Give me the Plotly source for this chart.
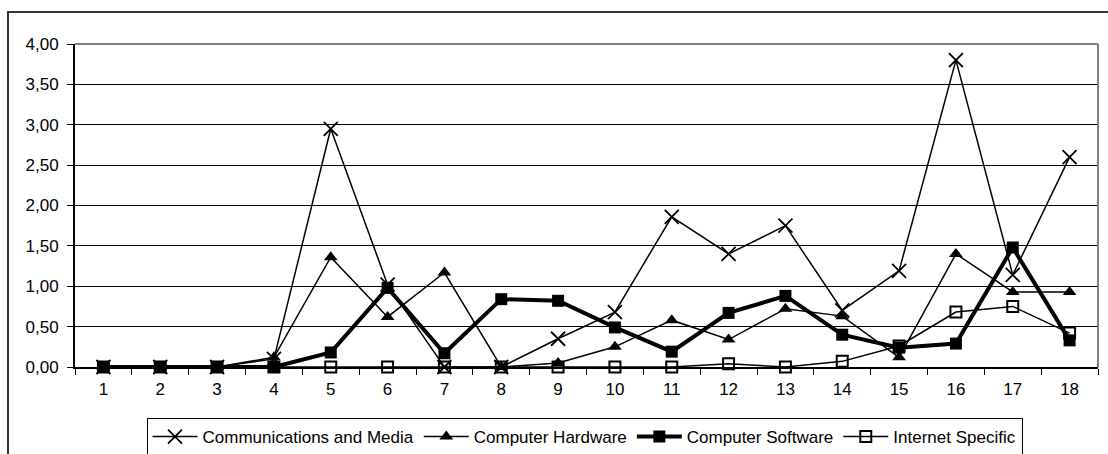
import plotly.graph_objects as go

categories = [str(i) for i in range(1, 19)]

comm_media = [0, 0, 0, 0.10, 2.95, 1.02, 0, 0, 0.35, 0.68, 1.86, 1.40, 1.75, 0.70, 1.19, 3.80, 1.14, 2.60]
comp_hardware = [0, 0, 0, 0.12, 1.36, 0.62, 1.17, 0, 0.05, 0.25, 0.58, 0.34, 0.72, 0.63, 0.12, 1.40, 0.93, 0.93]
comp_software = [0, 0, 0, 0, 0.18, 0.98, 0.17, 0.84, 0.82, 0.49, 0.19, 0.67, 0.88, 0.40, 0.24, 0.29, 1.48, 0.33]
internet_spec = [0, 0, 0, 0, 0, 0, 0, 0, 0, 0, 0, 0.04, 0, 0.07, 0.26, 0.68, 0.75, 0.42]

series_names = ["Communications and Media", "Computer Hardware", "Computer Software", "Internet Specific"]

FONT = "Liberation Sans, Arial, sans-serif"

fig = go.Figure()
fig.add_trace(go.Scatter(
    x=categories, y=comm_media, name=series_names[0], mode="lines+markers",
    line=dict(color="black", width=1.5),
    marker=dict(symbol="x-thin", size=14, line=dict(color="black", width=1.8)),
    cliponaxis=False))
fig.add_trace(go.Scatter(
    x=categories, y=comp_hardware, name=series_names[1], mode="lines+markers",
    line=dict(color="black", width=1.5),
    marker=dict(symbol="triangle-up", size=12, color="black"),
    cliponaxis=False))
fig.add_trace(go.Scatter(
    x=categories, y=comp_software, name=series_names[2], mode="lines+markers",
    line=dict(color="black", width=4),
    marker=dict(symbol="square", size=12, color="black"),
    cliponaxis=False))
fig.add_trace(go.Scatter(
    x=categories, y=internet_spec, name=series_names[3], mode="lines+markers",
    line=dict(color="black", width=1.5),
    marker=dict(symbol="square-open", size=11, color="black", line=dict(width=2)),
    cliponaxis=False))

L, R, T, B = 75, 10, 44, 87
W, H = 1108, 454
pw, ph = W - L - R, H - T - B

fig.update_layout(
    width=W, height=H,
    margin=dict(l=L, r=R, t=T, b=B, autoexpand=False),
    paper_bgcolor="white", plot_bgcolor="white",
    separators=", ",
    font=dict(family=FONT, size=17, color="black"),
    showlegend=True,
    legend=dict(orientation="h", xanchor="center", x=0.5 - 2 / pw, yanchor="top",
                y=-(418 - (H - B)) / ph,
                bordercolor="black", borderwidth=1,
                font=dict(family=FONT, size=17, color="black"),
                itemwidth=45, tracegroupgap=0),
    xaxis=dict(type="category", tickson="boundaries", ticks="outside", ticklen=6,
               tickcolor="black", showline=True, linecolor="black", linewidth=1.5,
               showgrid=False, tickfont=dict(size=17), range=[-0.5, 17.5],
               ticklabelstandoff=6),
    yaxis=dict(range=[0, 4], dtick=0.5, tickformat=".2f", ticks="outside", ticklen=6,
               tickcolor="black", showline=True, linecolor="black", linewidth=2,
               showgrid=True, gridcolor="black", gridwidth=1, zeroline=False,
               tickfont=dict(size=17), ticklabelstandoff=5),
    shapes=[
        dict(type="line", xref="paper", yref="paper", x0=0, x1=1, y0=1, y1=1,
             line=dict(color="#808080", width=2), layer="above"),
        dict(type="line", xref="paper", yref="paper", x0=1, x1=1, y0=0, y1=1,
             line=dict(color="#808080", width=2), layer="above"),
        dict(type="rect", xref="paper", yref="paper",
             x0=(8 - L) / pw, x1=(W + 20 - L) / pw,
             y0=-(H + 20 - (H - B)) / ph, y1=((H - B) - 12) / ph,
             line=dict(color="#333333", width=2), layer="above"),
    ],
)

fig.write_html("out.html", config={"displayModeBar": False},
               post_script="document.body.style.margin='0';document.body.style.overflow='hidden';")
